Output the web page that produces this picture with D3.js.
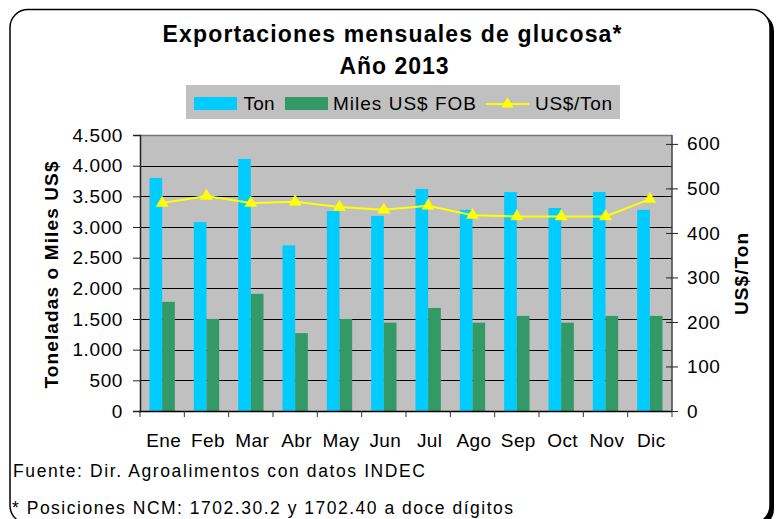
<!DOCTYPE html>
<html>
<head>
<meta charset="utf-8">
<script src="https://cdn.jsdelivr.net/npm/d3@7"></script>
<style>
  html, body { margin: 0; padding: 0; background: #fff; }
  svg { display: block; font-family: "Liberation Sans", Arial, sans-serif; }
</style>
</head>
<body>
<svg id="chart" width="778" height="519"></svg>
<script>
// ---- data ----
const months = ["Ene", "Feb", "Mar", "Abr", "May", "Jun", "Jul", "Ago", "Sep", "Oct", "Nov", "Dic"];
const seriesNames = ["Ton", "Miles US$ FOB", "US$/Ton"];
const ton = [3800, 3080, 4110, 2700, 3260, 3180, 3620, 3280, 3570, 3310, 3570, 3280];
const milesFob = [1780, 1500, 1910, 1270, 1500, 1440, 1680, 1440, 1550, 1440, 1550, 1550];
const usdPerTon = [467, 483, 467, 470, 458, 452, 461, 440, 437, 437, 437, 476];
const leftTicks = [0, 500, 1000, 1500, 2000, 2500, 3000, 3500, 4000, 4500];
const rightTicks = [0, 100, 200, 300, 400, 500, 600];
const titleLines = ["Exportaciones mensuales de glucosa*", "Año 2013"];
const leftTitle = "Toneladas o Miles US$";
const rightTitle = "US$/Ton";
const footnotes = ["Fuente: Dir. Agroalimentos con datos INDEC", "* Posiciones NCM: 1702.30.2 y 1702.40 a doce dígitos"];

const colors = { ton: "#00CCFF", fob: "#339966", line: "#FFFF00", plot: "#C0C0C0" };

const svg = d3.select("#chart");
const plot = { left: 140, right: 672, top: 135, bottom: 411 };

// outer frame with shadow
svg.append("rect").attr("x", 14).attr("y", 13).attr("width", 760).attr("height", 514)
  .attr("rx", 18).attr("fill", "#000");
svg.append("rect").attr("x", 10).attr("y", 9.5).attr("width", 760).attr("height", 514)
  .attr("rx", 18).attr("fill", "#fff").attr("stroke", "#000").attr("stroke-width", 1.5);

// titles
svg.append("text").attr("x", 392).attr("y", 42).attr("text-anchor", "middle")
  .attr("font-size", 23).attr("font-weight", "bold")
  .attr("textLength", 459).attr("lengthAdjust", "spacing").text(titleLines[0]);
svg.append("text").attr("x", 394).attr("y", 73.5).attr("text-anchor", "middle")
  .attr("font-size", 23).attr("font-weight", "bold")
  .attr("textLength", 109).attr("lengthAdjust", "spacing").text(titleLines[1]);

// scales
const x0 = d3.scaleBand().domain(months).range([plot.left, plot.right]).padding(0);
const barW = x0.bandwidth() / 3.5;
const x1 = d3.scaleBand().domain(["ton", "fob"]).range([0, 2 * barW]).padding(0);
const yL = d3.scaleLinear().domain([0, 4500]).range([plot.bottom, plot.top]);
const yR = d3.scaleLinear().domain([0, 620]).range([plot.bottom, plot.top]);

const loc = d3.formatLocale({ decimal: ",", thousands: ".", grouping: [3], currency: ["$", ""] });
const fmt = loc.format(",");

// plot background
svg.append("rect").attr("x", plot.left).attr("y", plot.top)
  .attr("width", plot.right - plot.left).attr("height", plot.bottom - plot.top)
  .attr("fill", colors.plot);

// gridlines
svg.append("g").selectAll("line").data(leftTicks.filter(d => d > 0 && d < 4500)).join("line")
  .attr("x1", plot.left).attr("x2", plot.right)
  .attr("y1", d => Math.round(yL(d)) + 0.5).attr("y2", d => Math.round(yL(d)) + 0.5)
  .attr("stroke", "#000").attr("stroke-width", 1);
svg.append("line").attr("x1", plot.left).attr("x2", plot.right)
  .attr("y1", plot.top + 0.5).attr("y2", plot.top + 0.5).attr("stroke", "#777").attr("stroke-width", 1.5);

// bars
const bars = months.map((m, i) => ({ m, ton: ton[i], fob: milesFob[i] }));
const g = svg.append("g");
bars.forEach(d => {
  const cx = x0(d.m) + x0.bandwidth() / 2 - barW;
  [["ton", colors.ton], ["fob", colors.fob]].forEach(([k, c]) => {
    g.append("rect").attr("x", cx + x1(k)).attr("width", x1.bandwidth())
      .attr("y", yL(d[k])).attr("height", yL(0) - yL(d[k])).attr("fill", c);
  });
});

// left axis
const axL = svg.append("g").attr("transform", `translate(${plot.left},0)`)
  .call(d3.axisLeft(yL).tickValues(leftTicks).tickFormat(fmt).tickSize(7).tickPadding(10));
axL.select(".domain").attr("stroke", "#222").attr("stroke-width", 1.5);
axL.selectAll(".tick line").attr("stroke", "#222");
axL.selectAll(".tick text").attr("font-size", 19).attr("fill", "#000")
  .attr("letter-spacing", 0.6).attr("font-family", "Liberation Sans, Arial, sans-serif");

// right axis
const axR = svg.append("g").attr("transform", `translate(${plot.right},0)`)
  .call(d3.axisRight(yR).tickValues(rightTicks).tickSize(6).tickPadding(9));
axR.select(".domain").attr("stroke", "#444").attr("stroke-width", 1.5).attr("d", `M0,${plot.top}V${plot.bottom}`);
axR.selectAll(".tick line").attr("stroke", "#222").attr("x1", -6);
axR.selectAll(".tick text").attr("font-size", 19).attr("fill", "#000")
  .attr("letter-spacing", 0.6).attr("font-family", "Liberation Sans, Arial, sans-serif");

// bottom axis
const bottomTicks = months.map(m => x0(m)).concat([plot.right]);
svg.append("line").attr("x1", plot.left - 1).attr("x2", plot.right)
  .attr("y1", plot.bottom + 0.5).attr("y2", plot.bottom + 0.5).attr("stroke", "#000").attr("stroke-width", 1.5);
svg.append("g").selectAll("line").data(bottomTicks).join("line")
  .attr("x1", d => d).attr("x2", d => d).attr("y1", plot.bottom).attr("y2", plot.bottom + 6)
  .attr("stroke", "#333").attr("stroke-width", 1);
svg.append("g").selectAll("text").data(months).join("text")
  .attr("x", d => x0(d) + x0.bandwidth() / 2 + 1.5).attr("y", 447)
  .attr("text-anchor", "middle").attr("font-size", 19).attr("letter-spacing", 0.4)
  .text(d => d);

// line series
const pts = months.map((m, i) => [x0(m) + x0.bandwidth() / 2, yR(usdPerTon[i])]);
svg.append("path").attr("d", d3.line()(pts)).attr("fill", "none")
  .attr("stroke", colors.line).attr("stroke-width", 2);
const tri = d3.symbol().type(d3.symbolTriangle).size(62);
svg.append("g").selectAll("path").data(pts).join("path")
  .attr("transform", d => `translate(${d[0]},${d[1]})`).attr("d", tri)
  .attr("fill", colors.line).attr("stroke", colors.line).attr("stroke-width", 0.5);

// axis titles
svg.append("text").attr("transform", "translate(58,275) rotate(-90)").attr("text-anchor", "middle")
  .attr("font-size", 19).attr("font-weight", "bold")
  .attr("textLength", 227).attr("lengthAdjust", "spacing").text(leftTitle);
svg.append("text").attr("transform", "translate(748,274) rotate(-90)").attr("text-anchor", "middle")
  .attr("font-size", 19).attr("font-weight", "bold")
  .attr("textLength", 82).attr("lengthAdjust", "spacing").text(rightTitle);

// legend
const lg = svg.append("g");
lg.append("rect").attr("x", 186).attr("y", 85).attr("width", 434).attr("height", 34).attr("fill", colors.plot);
lg.append("rect").attr("x", 194).attr("y", 97).attr("width", 43).attr("height", 13).attr("fill", colors.ton);
lg.append("text").attr("x", 243.5).attr("y", 110).attr("font-size", 19)
  .attr("textLength", 31).attr("lengthAdjust", "spacing").text(seriesNames[0]);
lg.append("rect").attr("x", 285).attr("y", 97).attr("width", 43).attr("height", 13).attr("fill", colors.fob);
lg.append("text").attr("x", 333).attr("y", 110).attr("font-size", 19)
  .attr("textLength", 143).attr("lengthAdjust", "spacing").text(seriesNames[1]);
lg.append("line").attr("x1", 486).attr("x2", 529).attr("y1", 104).attr("y2", 104)
  .attr("stroke", colors.line).attr("stroke-width", 2);
lg.append("path").attr("transform", "translate(507.5,104)").attr("d", tri).attr("fill", colors.line);
lg.append("text").attr("x", 535).attr("y", 110).attr("font-size", 19)
  .attr("textLength", 77).attr("lengthAdjust", "spacing").text(seriesNames[2]);

// footnotes
svg.append("text").attr("x", 13).attr("y", 477).attr("font-size", 17.5)
  .attr("textLength", 412).attr("lengthAdjust", "spacing").text(footnotes[0]);
svg.append("text").attr("x", 12).attr("y", 513.5).attr("font-size", 17.5)
  .attr("textLength", 501).attr("lengthAdjust", "spacing").text(footnotes[1]);
</script>
</body>
</html>
